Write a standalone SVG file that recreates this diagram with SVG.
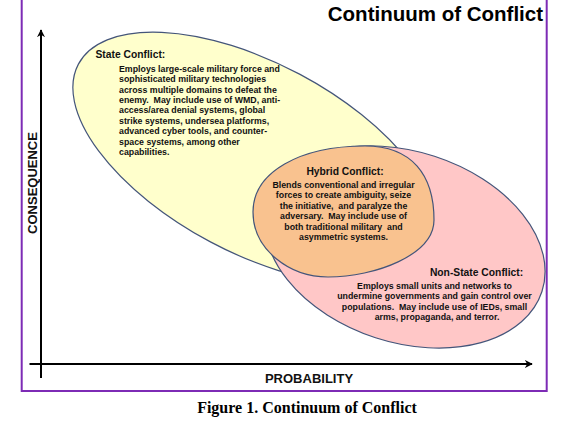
<svg xmlns="http://www.w3.org/2000/svg" width="582" height="425" viewBox="0 0 582 425">
<defs>
<marker id="arr" viewBox="0 0 10 10" refX="9" refY="5" markerWidth="4" markerHeight="4" orient="auto" markerUnits="strokeWidth">
<path d="M0,0 L10,5 L0,10 L3,5 z" fill="#000"/>
</marker>
<style>
.ell{stroke:#44557A;stroke-width:1.2}
.t{font-family:"Liberation Sans",Arial,sans-serif;font-weight:bold;fill:#111;white-space:pre}
.h{font-size:10.3px}
.b{font-size:8.8px}
.ax{font-size:13px}
.c{text-anchor:middle}
</style>
</defs>
<rect x="0" y="0" width="582" height="425" fill="#fff"/>
<rect x="21.7" y="-5" width="525" height="396" fill="none" stroke="#7D2BB5" stroke-width="2"/>
<text x="543" y="20.5" class="t" style="font-size:20.5px;text-anchor:end;fill:#000">Continuum of Conflict</text>

<g id="state-conflict">
<ellipse class="ell" cx="255" cy="158" rx="200" ry="95" transform="rotate(28 255 158)" fill="#FFFFCC"/>
<text class="t h" x="95.5" y="58">State Conflict:</text>
<text class="t b" x="119" y="71.5">Employs large-scale military force and</text>
<text class="t b" x="119" y="82">sophisticated military technologies</text>
<text class="t b" x="119" y="92.5">across multiple domains to defeat the</text>
<text class="t b" x="119" y="103">enemy.  May include use of WMD, anti-</text>
<text class="t b" x="119" y="113.3">access/area denial systems, global</text>
<text class="t b" x="119" y="123.7">strike systems, undersea platforms,</text>
<text class="t b" x="119" y="134">advanced cyber tools, and counter-</text>
<text class="t b" x="119" y="144.5">space systems, among other</text>
<text class="t b" x="119" y="155">capabilities.</text>
</g>

<g id="non-state-conflict">
<ellipse class="ell" cx="405" cy="247" rx="144" ry="95.4" transform="rotate(18 405 247)" fill="#FFC7C7"/>
<text class="t h c" x="476.5" y="276">Non-State Conflict:</text>
<text class="t b c" x="434.5" y="288.5">Employs small units and networks to</text>
<text class="t b c" x="434.5" y="299">undermine governments and gain control over</text>
<text class="t b c" x="434.5" y="309.5">populations.  May include use of IEDs, small</text>
<text class="t b c" x="437" y="320.3">arms, propaganda, and terror.</text>
</g>

<g id="hybrid-conflict">
<path class="ell" fill="#F9C28F" d="M253,212 C253,172 300,146 365,146 C412,146 434,175 434,220 C434,255 375,277 328,277 C290,277 253,250 253,212 Z"/>
<text class="t h c" x="345" y="175">Hybrid Conflict:</text>
<text class="t b c" x="343.5" y="187.5">Blends conventional and irregular</text>
<text class="t b c" x="343.5" y="198">forces to create ambiguity, seize</text>
<text class="t b c" x="343.5" y="208.5">the initiative,  and paralyze the</text>
<text class="t b c" x="343.5" y="219">adversary.  May include use of</text>
<text class="t b c" x="343.5" y="229.5">both traditional military  and</text>
<text class="t b c" x="343.5" y="240">asymmetric systems.</text>
</g>

<g id="connectors" stroke="#000" stroke-width="2" fill="none">
<line x1="41" y1="378" x2="41" y2="30" marker-end="url(#arr)"/>
<line x1="29.5" y1="364" x2="532" y2="364" marker-end="url(#arr)"/>
</g>
<text class="t ax c" x="309" y="382.5">PROBABILITY</text>
<text class="t ax c" transform="translate(37 183) rotate(-90)">CONSEQUENCE</text>
<text x="307" y="413" style="font-family:'Liberation Serif','Times New Roman',serif;font-weight:bold;font-size:16px;text-anchor:middle;fill:#000">Figure 1. Continuum of Conflict</text>
</svg>
